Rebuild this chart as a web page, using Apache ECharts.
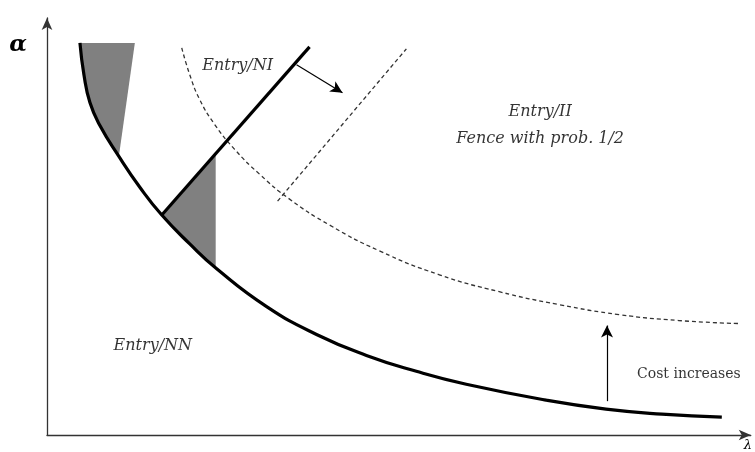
<!DOCTYPE html>
<html>
<head>
<meta charset="utf-8">
<script src="https://cdn.jsdelivr.net/npm/echarts@6/dist/echarts.min.js"></script>
<style>
  html, body { margin: 0; padding: 0; background: #fff; }
  #chart { width: 755px; height: 452px; }
</style>
</head>
<body>
<div id="chart"></div>
<script>
  // lambda on x, alpha on y (arbitrary units)
  const entryBound = [[33,394],[37,362],[43,334],[53,311],[72,280],[93,249],[115,221],[143,192],[170,167],[220,129],[270,101],[320,80],[370,64],[420,51],[500,35],[560,26],[616,21],[676,18]];
  const fenceBound = [[135,389],[143,362],[153,337],[168,312],[188,287],[213,262],[243,237],[283,211],[333,185],[393,161],[453,144],[513,131],[573,121],[633,115],[693,112]];
  const niLine = [[115,221],[263,390]];
  const niDashed = [[231,235],[360,388]];
  const shiftArrow = [[250,372],[296,344]];
  const costArrow = [[561,34],[561,110]];
  const shadeTop = [[33,394],[37,362],[43,334],[53,311],[72,280],[88,394]];
  const shadeMid = [[115,221],[143,192],[169,168],[169,282]];
  const italicNotes = [['Entry/NI',191,371],['Entry/II',494,325],['Fence with prob. 1/2',494,298],['Entry/NN',106,90]];
  const plainNotes = [['Cost increases',643,61]];

  const chart = echarts.init(document.getElementById('chart'));
  const shades = [shadeTop, shadeMid];
  const serif = 'DejaVu Serif';

  const option = {
    animation: false,
    backgroundColor: '#fff',
    grid: { left: 47, right: 3, top: 18, bottom: 15 },
    xAxis: {
      type: 'value', min: 0, max: 705,
      name: 'λ', nameLocation: 'end', nameGap: -7,
      nameTextStyle: { fontFamily: serif, fontStyle: 'italic', fontSize: 13, color: '#000', align: 'left', verticalAlign: 'top', padding: [4, 0, 0, 0] },
      axisLine: { lineStyle: { color: '#333', width: 1.3 }, symbol: ['none', 'arrow'], symbolSize: [8, 12] },
      axisTick: { show: false }, axisLabel: { show: false }, splitLine: { show: false }
    },
    yAxis: {
      type: 'value', min: 0, max: 419,
      name: 'α', nameLocation: 'end', nameGap: -27,
      nameTextStyle: { fontFamily: serif, fontStyle: 'italic', fontWeight: 'bold', fontSize: 23, color: '#000', align: 'right', verticalAlign: 'middle', padding: [0, 20, 0, 0] },
      axisLine: { lineStyle: { color: '#333', width: 1.3 }, symbol: ['none', 'arrow'], symbolSize: [8, 12] },
      axisTick: { show: false }, axisLabel: { show: false }, splitLine: { show: false }
    },
    series: [
      {
        type: 'custom',
        z: 1,
        data: shades.map((s, i) => i),
        renderItem: function (params, api) {
          const pts = shades[params.dataIndex].map(p => api.coord(p));
          return { type: 'polygon', shape: { points: pts }, style: { fill: '#808080' } };
        }
      },
      {
        type: 'line', z: 3, data: entryBound, smooth: 0.5, showSymbol: false,
        lineStyle: { color: '#000', width: 3.2 }
      },
      {
        type: 'line', z: 2, data: fenceBound, smooth: 0.5, showSymbol: false,
        lineStyle: { color: '#333', width: 1.3, type: [4, 3] }
      },
      {
        type: 'line', z: 3, data: niLine, showSymbol: false,
        lineStyle: { color: '#000', width: 3.2 },
        markLine: {
          silent: true, symbol: ['none', 'arrow'], symbolSize: [9, 12],
          label: { show: false },
          lineStyle: { color: '#000', width: 1.2, type: 'solid' },
          data: [
            [{ coord: shiftArrow[0] }, { coord: shiftArrow[1] }],
            [{ coord: costArrow[0] }, { coord: costArrow[1] }]
          ]
        }
      },
      {
        type: 'line', z: 2, data: niDashed, showSymbol: false,
        lineStyle: { color: '#333', width: 1.3, type: [4, 3] }
      },
      {
        type: 'scatter', z: 4, symbolSize: 0, silent: true,
        data: italicNotes.map(n => [n[1], n[2], n[0]]),
        label: {
          show: true, position: 'inside', formatter: p => p.data[2],
          fontFamily: serif, fontStyle: 'italic', fontSize: 16, color: '#000'
        }
      },
      {
        type: 'scatter', z: 4, symbolSize: 0, silent: true,
        data: plainNotes.map(n => [n[1], n[2], n[0]]),
        label: {
          show: true, position: 'inside', formatter: p => p.data[2],
          fontFamily: serif, fontSize: 14, color: '#000'
        }
      }
    ]
  };

  chart.setOption(option);
</script>
</body>
</html>
